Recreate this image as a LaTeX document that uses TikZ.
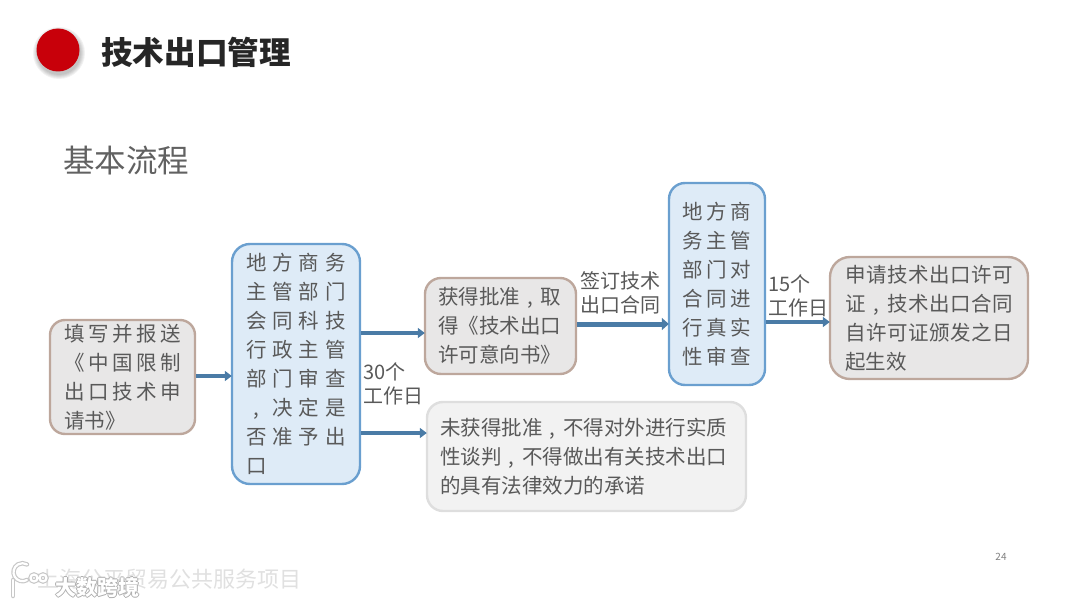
\documentclass[tikz,border=0pt]{standalone}
\usepackage{fontspec}
\usetikzlibrary{arrows.meta}
\setmainfont{Noto Sans CJK SC}
\definecolor{txt}{HTML}{595959}
\definecolor{flowc}{HTML}{4A7BA6}
\definecolor{tanedge}{HTML}{BDA79C}
\definecolor{greyfill}{HTML}{E8E7E7}
\definecolor{blueedge}{HTML}{6A9FCF}
\definecolor{bluefill}{HTML}{DEEBF7}
\definecolor{dotred}{HTML}{C8000A}
\makeatletter
\newcommand\sline[2]{\leavevmode\hbox to #1{\let\sl@sep\relax\@tfor\sl@c:=#2\do{\sl@sep\sl@c\let\sl@sep\hfil}}}
\makeatother
\newcommand\ccomma{\makebox[1em][c]{,}}
\tikzset{
  x=1pt,y=-1pt,
  boxbase/.style={rounded corners=16pt,line width=2.4pt,align=left,inner ysep=0pt,text=txt,font=\fontsize{20.5}{29}\selectfont},
  tanbox/.style={boxbase,draw=tanedge,fill=greyfill},
  bluebox/.style={boxbase,draw=blueedge,fill=bluefill},
  palebox/.style={boxbase,draw=black!13,fill=black!5},
  flow/.style={draw=flowc,line width=4pt,-{Triangle[length=7pt,width=10pt]},shorten >=-1pt},
  lab/.style={align=left,inner sep=0pt,anchor=west,text=txt,font=\fontsize{20}{24}\selectfont},
  logoglow/.style={black!22,line width=4.5pt,line cap=round},
  logocore/.style={white,line width=2.2pt,line cap=round},
}
\begin{document}
\begin{tikzpicture}
\useasboundingbox (0,0) rectangle (1080,607);
% bullet with soft shadow
\foreach \r in {26,25,24,23,22}{\fill[black,opacity=0.05] (59,53) circle (\r);}
\node[circle,fill=dotred,minimum size=43pt,inner sep=0pt] (dot) at (58,50) {};
\node[anchor=west,inner sep=0pt,text=black!85,font=\fontsize{31.6}{36}\selectfont\bfseries] (title) at (101,52) {技术出口管理};
\node[anchor=west,inner sep=0pt,text=black!62,font=\fontsize{31.5}{36}\selectfont] (sub) at (63,161) {基本流程};

\node[tanbox,rounded corners=15pt,inner xsep=14pt,text width=117pt,minimum height=114pt] (b1) at (122.5,377)
 {\sline{117pt}{填写并报送}\\\sline{117pt}{《中国限制}\\\sline{117pt}{出口技术申}\\请书》};
\node[bluebox,rounded corners=18pt,inner xsep=14pt,text width=100pt,minimum height=240pt] (b2) at (296,364)
 {\sline{100pt}{地方商务}\\\sline{100pt}{主管部门}\\\sline{100pt}{会同科技}\\\sline{100pt}{行政主管}\\\sline{100pt}{部门审查}\\\sline{100pt}{\ccomma 决定是}\\\sline{100pt}{否准予出}\\口};
\node[tanbox,inner xsep=13pt,text width=125pt,minimum height=96pt] (b3) at (500.5,326)
 {\sline{122pt}{获得批准\ccomma 取}\\\sline{122pt}{得《技术出口}\\\sline{122pt}{许可意向书》}};
\node[bluebox,inner xsep=13pt,text width=70pt,minimum height=202pt] (b4) at (717,284)
 {\sline{69pt}{地方商}\\\sline{69pt}{务主管}\\\sline{69pt}{部门对}\\\sline{69pt}{合同进}\\\sline{69pt}{行真实}\\\sline{69pt}{性审查}};
\node[tanbox,rounded corners=20pt,inner xsep=15pt,text width=168pt,minimum height=122pt] (b5) at (929,318)
 {\sline{168pt}{申请技术出口许可}\\\sline{168pt}{证\ccomma 技术出口合同}\\\sline{168pt}{自许可证颁发之日}\\起生效};
\node[palebox,inner xsep=13pt,text width=293pt,minimum height=109pt] (b6) at (586.5,456.5)
 {\sline{284pt}{未获得批准\ccomma 不得对外进行实质}\\\sline{284pt}{性谈判\ccomma 不得做出有关技术出口}\\的具有法律效力的承诺};

\draw[flow] ([yshift=1pt]b1.east) -- ([yshift=-12pt]b2.west);
\draw[flow] ([yshift=31pt]b2.east) -- ([yshift=-7pt]b3.west);
\draw[flow] ([yshift=-69pt]b2.east) -- ([yshift=23.5pt]b6.west);
\draw[flow,line width=5pt,-{Triangle[length=7pt,width=12pt]}] ([yshift=2pt]b3.east) -- ([yshift=-40pt]b4.west);
\draw[flow] ([yshift=-38pt]b4.east) -- ([yshift=-4pt]b5.west);

\node[lab] (l1) at (580,293) {签订技术\\出口合同};
\node[lab] (l2) at (363,384) {30个\\工作日};
\node[lab] (l3) at (768,296) {15个\\工作日};

\node[inner sep=0pt,text=black!50,font=\fontsize{10}{12}\selectfont] (page) at (1001,557) {24};
\node[anchor=west,inner sep=0pt,text=black!12,font=\fontsize{22}{26}\selectfont] (wm) at (37,579) {上海公平贸易公共服务项目};
% watermark logo
\draw[logoglow] (13,580) -- (13,596);
\draw[logoglow] (27,580) arc[start angle=60,end angle=300,radius=9];
\draw[logoglow] (34,578) circle (3.5) (43,578) circle (3.5);
\draw[logocore] (13,580) -- (13,596);
\draw[logocore] (27,580) arc[start angle=60,end angle=300,radius=9];
\draw[logocore] (34,578) circle (3.5) (43,578) circle (3.5);
\foreach \dx/\dy in {-1/0,1/0,0/-1,0/1}{
  \node[anchor=west,inner sep=0pt,text=black!32,font=\fontsize{21}{24}\selectfont\bfseries] at (55+\dx,587+\dy) {大数跨境};}
\node[anchor=west,inner sep=0pt,text=white,font=\fontsize{21}{24}\selectfont\bfseries] (wm2) at (55,587) {大数跨境};
\end{tikzpicture}
\end{document}
